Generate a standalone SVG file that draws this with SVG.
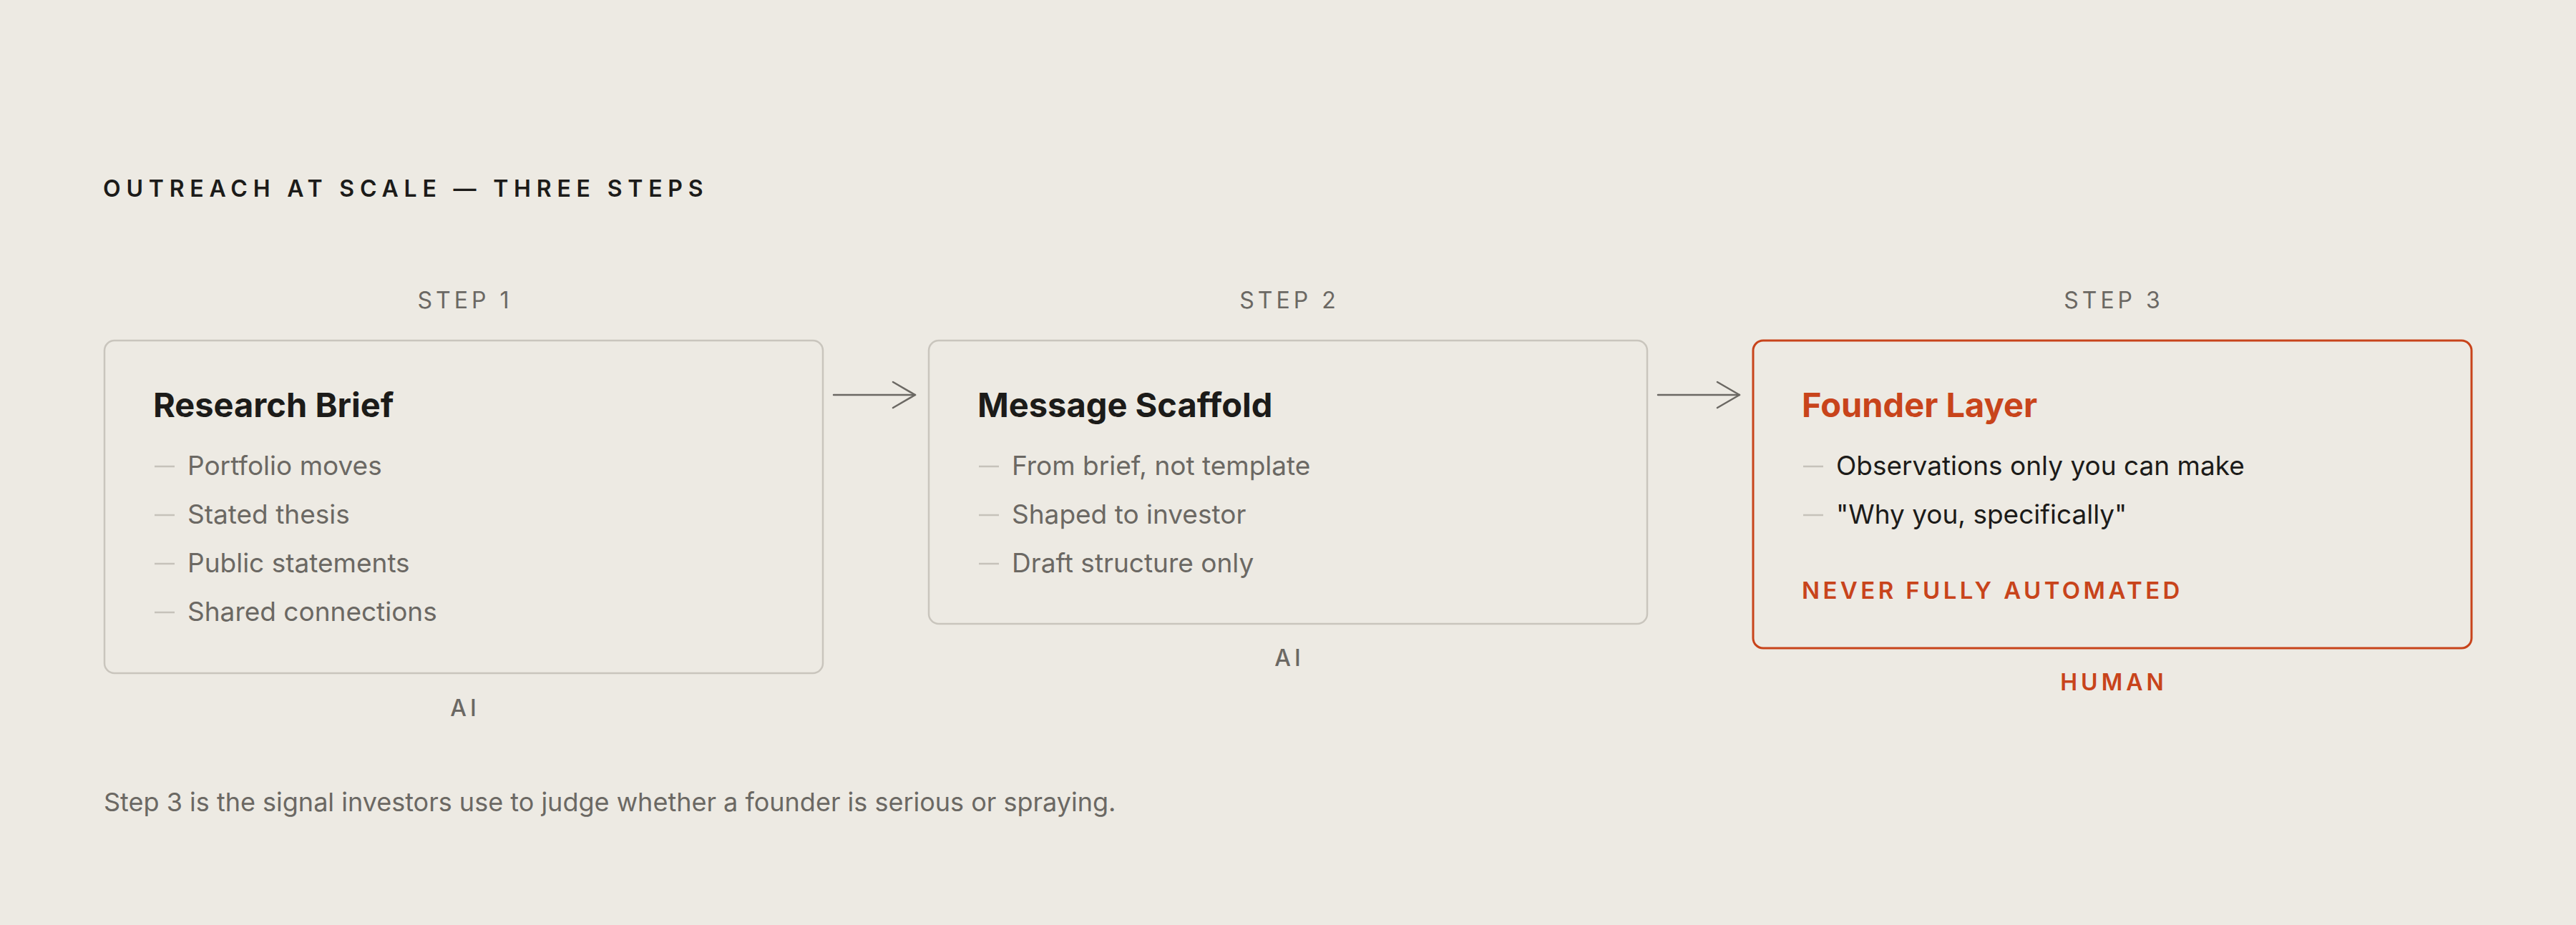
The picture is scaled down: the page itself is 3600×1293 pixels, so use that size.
<svg xmlns="http://www.w3.org/2000/svg" width="3600" height="1293" viewBox="0 0 3600 1293">
<style>
text{font-family:"Inter","Liberation Sans",sans-serif}
.ttl{font-size:32px;font-weight:600;fill:#1c1b19;letter-spacing:7.8px}
.step{font-size:32px;font-weight:400;fill:#6b6863;letter-spacing:5px;text-anchor:middle}
.box{fill:none;stroke:#c9c5bd;stroke-width:2.5}
.boxh{fill:none;stroke:#c8441b;stroke-width:3}
.h{font-size:47px;font-weight:700;fill:#1c1b19}
.hh{font-size:47px;font-weight:700;fill:#c8441b}
.b{font-size:37px;fill:#6b6863}
.bd{font-size:37px;fill:#1c1b19}
.dash{stroke:#c6c2ba;stroke-width:2.5}
.who{font-size:32px;font-weight:500;fill:#6b6863;letter-spacing:5px;text-anchor:middle}
.whoh{font-size:32px;font-weight:600;fill:#c8441b;letter-spacing:5px;text-anchor:middle}
.tag{font-size:33px;font-weight:600;fill:#c8441b;letter-spacing:4.4px}
.conn{fill:none;stroke:#6b6863;stroke-width:2.5;stroke-linecap:round;stroke-linejoin:round}
.foot{font-size:36px;fill:#6b6863}
</style>
<rect x="0" y="0" width="3600" height="1293" fill="#edeae3"/>
<text class="ttl" x="144" y="275">OUTREACH AT SCALE — THREE STEPS</text>

<g id="step1">
<text class="step" x="650" y="431">STEP 1</text>
<rect class="box" x="146" y="476" width="1004" height="465" rx="14"/>
<text class="h" x="214" y="583">Research Brief</text>
<line class="dash" x1="216" y1="652" x2="244" y2="652"/>
<text class="b" x="262" y="664">Portfolio moves</text>
<line class="dash" x1="216" y1="720" x2="244" y2="720"/>
<text class="b" x="262" y="732">Stated thesis</text>
<line class="dash" x1="216" y1="788" x2="244" y2="788"/>
<text class="b" x="262" y="800">Public statements</text>
<line class="dash" x1="216" y1="856" x2="244" y2="856"/>
<text class="b" x="262" y="868">Shared connections</text>
<text class="who" x="650" y="1001">AI</text>
</g>

<g id="step2">
<text class="step" x="1802" y="431">STEP 2</text>
<rect class="box" x="1298" y="476" width="1004" height="396" rx="14"/>
<text class="h" x="1366" y="583">Message Scaffold</text>
<line class="dash" x1="1368" y1="652" x2="1396" y2="652"/>
<text class="b" x="1414" y="664">From brief, not template</text>
<line class="dash" x1="1368" y1="720" x2="1396" y2="720"/>
<text class="b" x="1414" y="732">Shaped to investor</text>
<line class="dash" x1="1368" y1="788" x2="1396" y2="788"/>
<text class="b" x="1414" y="800">Draft structure only</text>
<text class="who" x="1802" y="931">AI</text>
</g>

<g id="step3">
<text class="step" x="2954" y="431">STEP 3</text>
<rect class="boxh" x="2450" y="476" width="1004" height="430" rx="14"/>
<text class="hh" x="2518" y="583">Founder Layer</text>
<line class="dash" x1="2520" y1="652" x2="2548" y2="652"/>
<text class="bd" x="2566" y="664">Observations only you can make</text>
<line class="dash" x1="2520" y1="720" x2="2548" y2="720"/>
<text class="bd" x="2566" y="732">"Why you, specifically"</text>
<text class="tag" x="2518" y="837">NEVER FULLY AUTOMATED</text>
<text class="whoh" x="2954" y="965">HUMAN</text>
</g>

<g id="connectors">
<line class="conn" x1="1165" y1="552" x2="1279" y2="552"/>
<polyline class="conn" points="1248,534 1279,552 1248,570"/>
<line class="conn" x1="2317" y1="552" x2="2431" y2="552"/>
<polyline class="conn" points="2400,534 2431,552 2400,570"/>
</g>

<text class="foot" x="145" y="1134">Step 3 is the signal investors use to judge whether a founder is serious or spraying.</text>
</svg>
